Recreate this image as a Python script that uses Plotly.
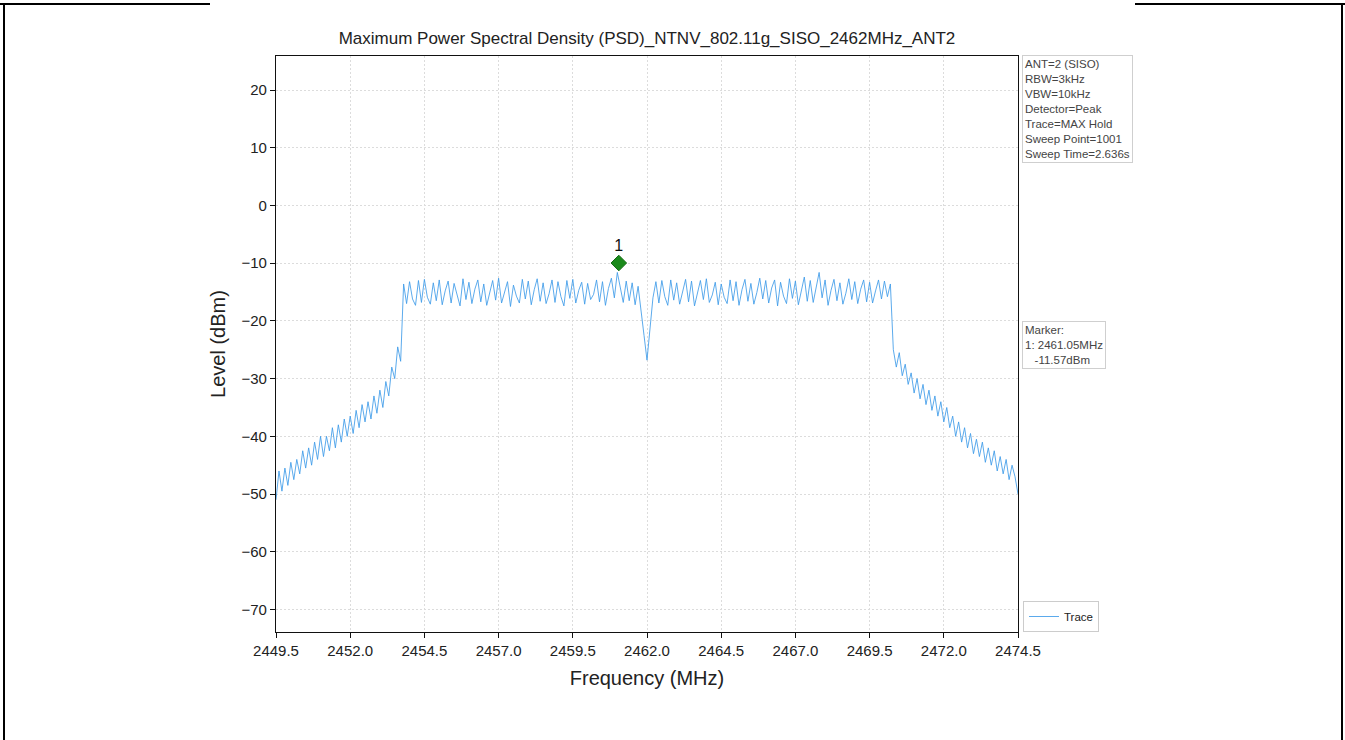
import numpy as np
import plotly.graph_objects as go

# ---- data ----
f_start, f_stop = 2449.5, 2474.5   # sweep span, MHz (uniform sweep)
level_dbm = [
    # lower skirt 2449.5 .. 2453.7
    -51.0, -46.0, -49.5, -45.5, -48.5, -44.5, -47.5, -44.0, -46.5, -42.5,
    -45.5, -42.0, -45.0, -41.0, -44.0, -40.0, -43.5, -40.0, -42.5, -38.5,
    -42.0, -38.0, -41.0, -37.0, -40.0, -36.5, -39.5, -35.5, -38.5, -34.5,
    -37.5, -34.0, -37.0, -33.0, -36.0, -32.0, -35.0, -30.5, -33.0, -28.0,
    -30.0, -24.5, -27.0,
    # in-band 2453.8 .. 2470.2
    -13.6, -17.0, -13.2, -16.2, -17.3, -13.0, -16.8, -12.8, -15.9, -17.1,
    -13.4, -16.5, -12.9, -17.2, -14.8, -13.1, -16.9, -13.5, -15.6, -17.4,
    -12.7, -16.3, -13.3, -17.0, -14.5, -12.9, -16.7, -13.6, -17.3, -15.2,
    -13.0, -16.4, -12.6, -16.9, -14.9, -13.2, -17.5, -13.8, -15.7, -16.9,
    -12.8, -16.2, -13.1, -17.2, -14.6, -12.7, -16.6, -13.4, -17.0, -15.3,
    -12.9, -16.8, -13.2, -15.8, -17.4, -13.0, -16.1, -12.8, -16.9, -14.7,
    -13.3, -17.1, -13.5, -16.3, -15.4, -12.9, -16.7, -13.2, -17.3, -14.4,
    -12.6, -16.0, -11.6, -14.2, -16.8, -13.1, -16.5, -13.4, -17.2, -14.0,
    -17.8, -22.5, -26.8, -22.0, -16.0, -13.2, -16.9, -13.0, -15.8, -17.3,
    -12.9, -16.4, -13.4, -17.1, -14.8, -12.8, -16.7, -13.1, -17.4, -15.0,
    -13.0, -16.3, -12.7, -16.8, -15.5, -13.3, -17.2, -13.6, -15.9, -17.0,
    -12.9, -16.5, -13.2, -17.3, -14.6, -12.8, -16.6, -13.5, -17.1, -15.1,
    -12.6, -16.2, -13.0, -16.9, -14.3, -12.9, -17.4, -13.3, -15.7, -17.0,
    -12.7, -16.1, -13.1, -17.2, -14.9, -12.4, -16.6, -13.0, -16.8, -14.2,
    -11.6, -16.0, -12.9, -17.3, -14.7, -12.8, -16.5, -13.4, -17.1, -15.2,
    -12.7, -16.3, -13.2, -17.0, -14.5, -12.9, -16.7, -13.3, -16.9, -14.8,
    -12.9, -16.2, -13.1, -15.8, -13.6,
    # upper skirt 2470.3 .. 2474.5
    -25.0, -28.0, -25.5, -29.5, -27.5, -31.0, -29.0, -32.5, -30.0, -33.5,
    -31.0, -34.5, -32.0, -35.5, -33.0, -36.5, -34.0, -37.5, -35.0, -38.5,
    -36.5, -40.0, -37.5, -41.0, -38.5, -42.0, -39.5, -43.0, -40.5, -43.5,
    -41.0, -44.5, -42.0, -45.0, -42.5, -46.0, -43.5, -46.5, -44.0, -47.5,
    -45.0, -47.0, -50.0,
]
marker_freq = [2461.05]
marker_level = [-11.57]
marker_labels = ["1"]
x_ticks = [2449.5, 2452.0, 2454.5, 2457.0, 2459.5, 2462.0, 2464.5, 2467.0, 2469.5, 2472.0, 2474.5]
y_ticks = [-70, -60, -50, -40, -30, -20, -10, 0, 10, 20]
settings_lines = ["ANT=2 (SISO)", "RBW=3kHz", "VBW=10kHz", "Detector=Peak",
                  "Trace=MAX Hold", "Sweep Point=1001", "Sweep Time=2.636s"]
title_text = "Maximum Power Spectral Density (PSD)_NTNV_802.11g_SISO_2462MHz_ANT2"

freq = np.linspace(f_start, f_stop, len(level_dbm))

# ---- layout geometry (pixels) ----
W, H = 1345, 740
L, R, T, B = 276, 1018, 56, 632
def px(x):
    return (x - L) / (R - L)
def py(y):
    return (B - y) / (B - T)

FONT = "Liberation Sans, Arial, sans-serif"
MARKER_OFFSET = 1.6  # marker symbol drawn slightly above the trace point

fig = go.Figure()
fig.add_trace(go.Scatter(
    x=freq, y=level_dbm, mode="lines", name="Trace",
    line=dict(color="#3d9be9", width=0.85),
))
fig.add_trace(go.Scatter(
    x=marker_freq, y=[v + MARKER_OFFSET for v in marker_level],
    mode="markers+text", text=marker_labels, textposition="top center",
    textfont=dict(size=16, color="#111", family=FONT),
    marker=dict(symbol="diamond", size=12, color="#1a8a1a",
                line=dict(color="#146c14", width=1)),
    showlegend=False, hoverinfo="skip",
))

axis_common = dict(
    showline=True, linecolor="#111", linewidth=1.3, mirror=True,
    ticks="outside", ticklen=5, tickwidth=1.2, tickcolor="#111",
    showgrid=True, gridcolor="#dcdcdc", gridwidth=0.7, griddash="2px,2px",
    zeroline=False, tickfont=dict(size=15, color="#222", family=FONT),
)

fig.update_layout(
    width=W, height=H,
    margin=dict(l=L, r=W - R, t=T, b=H - B, autoexpand=False),
    paper_bgcolor="white", plot_bgcolor="white",
    title=dict(text=title_text, xref="container", x=647 / W, xanchor="center",
               yref="container", y=1 - 38 / H, yanchor="middle",
               font=dict(size=17, color="#222", family=FONT)),
    xaxis=dict(range=[f_start, f_stop], tickvals=x_ticks,
               ticktext=[f"{v:.1f}" for v in x_ticks],
               title=dict(text="Frequency (MHz)", font=dict(size=20, color="#222", family=FONT),
                          standoff=12),
               **axis_common),
    yaxis=dict(range=[-73.9, 25.9], tickvals=y_ticks,
               title=dict(text="Level (dBm)", font=dict(size=20, color="#222", family=FONT),
                          standoff=10),
               **axis_common),
    legend=dict(x=px(1023), y=py(632), xanchor="left", yanchor="bottom",
                bordercolor="#cccccc", borderwidth=1, bgcolor="white",
                font=dict(size=11.5, color="#222", family=FONT),
                itemwidth=30, tracegroupgap=0),
    showlegend=True,
)

fig.add_annotation(
    xref="paper", yref="paper", x=px(1022), y=py(55), xanchor="left", yanchor="top",
    text="<br>".join(settings_lines), showarrow=False, align="left",
    font=dict(size=11.5, color="#444", family=FONT),
    bordercolor="#cfcfcf", borderwidth=1, borderpad=2, bgcolor="white",
)
m_text = "Marker:<br>" + "<br>".join(
    f"{lab}: {fq:.2f}MHz<br>\u00a0\u00a0\u00a0{lv:.2f}dBm"
    for lab, fq, lv in zip(marker_labels, marker_freq, marker_level))
fig.add_annotation(
    xref="paper", yref="paper", x=px(1022), y=py(321), xanchor="left", yanchor="top",
    text=m_text, showarrow=False, align="left",
    font=dict(size=11.5, color="#444", family=FONT),
    bordercolor="#cfcfcf", borderwidth=1, borderpad=2, bgcolor="white",
)

# page frame of the surrounding document
frame = dict(color="black", width=2)
fig.add_shape(type="line", xref="paper", yref="paper", x0=px(4), x1=px(4), y0=py(4), y1=py(742), line=frame)
fig.add_shape(type="line", xref="paper", yref="paper", x0=px(1342), x1=px(1342), y0=py(4), y1=py(742), line=frame)
fig.add_shape(type="line", xref="paper", yref="paper", x0=px(0), x1=px(210), y0=py(4), y1=py(4), line=frame)
fig.add_shape(type="line", xref="paper", yref="paper", x0=px(1135), x1=px(1345), y0=py(4), y1=py(4), line=frame)

fig.write_html("out.html", config={"displayModeBar": False},
               post_script="document.body.style.margin='0px';")
